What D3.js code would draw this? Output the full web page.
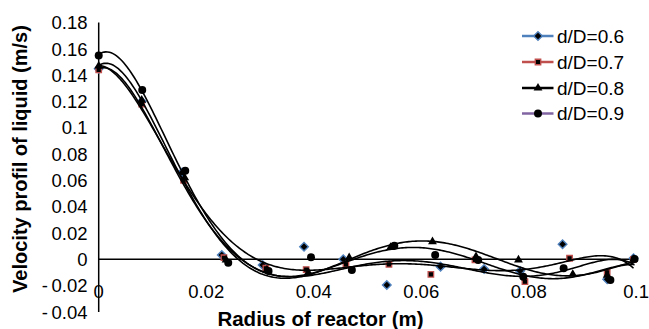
<!DOCTYPE html>
<html>
<head>
<meta charset="utf-8">
<script src="https://cdn.jsdelivr.net/npm/d3@7/dist/d3.min.js"></script>
<style>
  html, body { margin: 0; padding: 0; background: #fff; }
  svg { display: block; font-family: "Liberation Sans", Arial, sans-serif; }
</style>
</head>
<body>
<svg id="chart" width="649" height="329"></svg>
<script>
// Radial positions (m) and liquid velocity (m/s) for each impeller ratio d/D
const radius06 = [0, 0.0080, 0.0155, 0.0229, 0.0305, 0.0382, 0.0455, 0.0536, 0.0636, 0.0717, 0.0784, 0.0863, 0.0946, 0.0995];
const vel06    = [0.145, 0.120, 0.066, 0.0033, -0.0043, 0.0096, 0.0000, -0.0195, -0.0056, -0.0074, -0.0089, 0.0114, -0.0152, 0.0008];

const radius07 = [0, 0.0080, 0.0158, 0.0233, 0.0311, 0.0386, 0.0460, 0.0540, 0.0618, 0.0700, 0.0793, 0.0876, 0.0946, 0.0995];
const vel07    = [0.144, 0.118, 0.060, 0.0012, -0.0068, -0.0078, -0.0038, -0.0038, -0.0114, -0.0005, -0.0170, 0.0008, -0.0099, 0.0000];

const radius08 = [0, 0.0080, 0.0160, 0.0237, 0.0313, 0.0390, 0.0466, 0.0543, 0.0621, 0.0702, 0.0781, 0.0882, 0.0946, 0.0995];
const vel08    = [0.147, 0.121, 0.062, -0.0005, -0.0080, -0.0100, 0.0012, 0.0090, 0.0134, 0.0020, -0.0005, -0.0114, -0.0120, 0.0000];

const radius09 = [0, 0.0081, 0.0161, 0.0241, 0.0316, 0.0395, 0.0471, 0.0550, 0.0626, 0.0706, 0.0790, 0.0865, 0.0952, 0.0997];
const vel09    = [0.155, 0.1287, 0.0674, -0.0026, -0.0089, 0.0015, -0.0081, 0.0103, 0.0033, -0.0005, -0.0132, -0.0068, -0.0158, 0.0002];

const seriesNames = ["d/D=0.6", "d/D=0.7", "d/D=0.8", "d/D=0.9"];
const seriesColors = ["#4F81BD", "#C0504D", "#000000", "#8064A2"];

const xTicks = [0, 0.02, 0.04, 0.06, 0.08, 0.1];
const xTickLabels = ["0", "0.02", "0.04", "0.06", "0.08", "0.1"];
const yTicks = [0.18, 0.16, 0.14, 0.12, 0.1, 0.08, 0.06, 0.04, 0.02, 0, -0.02, -0.04];
const yTickLabels = ["0.18", "0.16", "0.14", "0.12", "0.1", "0.08", "0.06", "0.04", "0.02", "0", "-\u20090.02", "-\u20090.04"];

const series = [
  { name: seriesNames[0], color: seriesColors[0], xs: radius06, ys: vel06, marker: "diamond" },
  { name: seriesNames[1], color: seriesColors[1], xs: radius07, ys: vel07, marker: "square" },
  { name: seriesNames[2], color: seriesColors[2], xs: radius08, ys: vel08, marker: "triangle" },
  { name: seriesNames[3], color: seriesColors[3], xs: radius09, ys: vel09, marker: "circle" }
];

const svg = d3.select("#chart");

const x = d3.scaleLinear().domain([0, 0.1]).range([98.7, 636.2]);
const y = d3.scaleLinear().domain([-0.04, 0.18]).range([311.9, 22.6]);

// Least-squares polynomial (order 6) trendline, fitted on r/0.1 for conditioning
function polyFit(xs, ys, deg) {
  const n = deg + 1;
  const A = Array.from({ length: n }, () => new Array(n).fill(0));
  const b = new Array(n).fill(0);
  xs.forEach((xv, k) => {
    const t = xv / 0.1;
    const pw = [];
    for (let i = 0; i < 2 * n; i++) pw.push(Math.pow(t, i));
    for (let i = 0; i < n; i++) {
      b[i] += pw[i] * ys[k];
      for (let j = 0; j < n; j++) A[i][j] += pw[i + j];
    }
  });
  for (let c = 0; c < n; c++) {
    let p = c;
    for (let r = c + 1; r < n; r++) if (Math.abs(A[r][c]) > Math.abs(A[p][c])) p = r;
    [A[c], A[p]] = [A[p], A[c]];
    [b[c], b[p]] = [b[p], b[c]];
    for (let r = c + 1; r < n; r++) {
      const f = A[r][c] / A[c][c];
      for (let j = c; j < n; j++) A[r][j] -= f * A[c][j];
      b[r] -= f * b[c];
    }
  }
  const coef = new Array(n).fill(0);
  for (let i = n - 1; i >= 0; i--) {
    let s = b[i];
    for (let j = i + 1; j < n; j++) s -= A[i][j] * coef[j];
    coef[i] = s / A[i][i];
  }
  return xv => {
    const t = xv / 0.1;
    let v = 0;
    for (let i = n - 1; i >= 0; i--) v = v * t + coef[i];
    return v;
  };
}

// Axes
svg.append("line")
  .attr("x1", x(0)).attr("x2", x(0))
  .attr("y1", y(0.18)).attr("y2", y(-0.04))
  .attr("stroke", "#000").attr("stroke-width", 1.5);
svg.append("line")
  .attr("x1", x(0)).attr("x2", x(0.1))
  .attr("y1", y(0)).attr("y2", y(0))
  .attr("stroke", "#000").attr("stroke-width", 1.5);

// Tick labels
svg.append("g").selectAll("text")
  .data(yTicks)
  .join("text")
  .attr("x", 87.5)
  .attr("y", d => y(d))
  .attr("dy", "0.36em")
  .attr("text-anchor", "end")
  .attr("font-size", 18.5)
  .attr("fill", "#000")
  .text((d, i) => yTickLabels[i]);

svg.append("g").selectAll("text")
  .data(xTicks)
  .join("text")
  .attr("x", d => x(d))
  .attr("y", 297.5)
  .attr("text-anchor", "middle")
  .attr("font-size", 18.5)
  .attr("fill", "#000")
  .text((d, i) => xTickLabels[i]);

// Axis titles
svg.append("text")
  .attr("x", 320.5).attr("y", 326)
  .attr("text-anchor", "middle")
  .attr("font-size", 20.5).attr("font-weight", "bold")
  .text("Radius of reactor (m)");

svg.append("text")
  .attr("transform", "translate(26.5,159) rotate(-90)")
  .attr("text-anchor", "middle")
  .attr("font-size", 20).attr("font-weight", "bold")
  .text("Velocity profil of liquid (m/s)");

// Marker shapes (diamond is a square turned 45 degrees)
const diamondPath = (() => { const r = 4.3; return `M0,${-r}L${r},0L0,${r}L${-r},0Z`; })();
const symbolFor = {
  diamond: () => diamondPath,
  square: d3.symbol().type(d3.symbolSquare).size(30),
  triangle: d3.symbol().type(d3.symbolTriangle).size(34),
  circle: d3.symbol().type(d3.symbolCircle).size(50)
};
function styleMarker(sel, s) {
  sel.attr("fill", "#000");
  if (s.marker === "diamond") sel.attr("stroke", "#4F81BD").attr("stroke-width", 1.4);
  else if (s.marker === "square") sel.attr("stroke", "#C0504D").attr("stroke-width", 1.3);
  else sel.attr("stroke", "none");
}

// Data markers
series.forEach(s => {
  const g = svg.append("g");
  g.selectAll("path")
    .data(s.xs.map((xv, i) => [xv, s.ys[i]]))
    .join("path")
    .attr("d", symbolFor[s.marker])
    .attr("transform", d => `translate(${x(d[0])},${y(d[1])})`)
    .call(sel => styleMarker(sel, s));
});

// Polynomial trendlines
const line = d3.line().x(d => x(d[0])).y(d => y(d[1])).curve(d3.curveLinear);
series.forEach(s => {
  const f = polyFit(s.xs, s.ys, 6);
  const x0 = d3.min(s.xs), x1 = d3.max(s.xs);
  const pts = d3.range(0, 301).map(i => {
    const xv = x0 + (x1 - x0) * i / 300;
    return [xv, f(xv)];
  });
  svg.append("path")
    .attr("d", line(pts))
    .attr("fill", "none")
    .attr("stroke", "#000")
    .attr("stroke-width", 1.6);
});

// Legend
const legend = svg.append("g");
const legendY = [36, 62, 88, 113.5];
series.forEach((s, i) => {
  const row = legend.append("g").attr("transform", `translate(0,${legendY[i]})`);
  row.append("line")
    .attr("x1", 522).attr("x2", 553.5)
    .attr("y1", 0).attr("y2", 0)
    .attr("stroke", s.color).attr("stroke-width", 2.5);
  row.append("path")
    .attr("d", symbolFor[s.marker])
    .attr("transform", "translate(538,0)")
    .call(sel => styleMarker(sel, s));
  row.append("text")
    .attr("x", 557).attr("y", 0).attr("dy", "0.36em")
    .attr("font-size", 19)
    .text(s.name);
});
</script>
</body>
</html>
